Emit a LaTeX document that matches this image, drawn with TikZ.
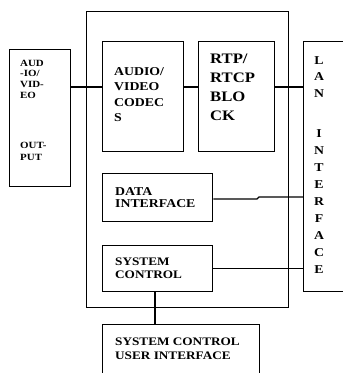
\documentclass[tikz,border=0pt]{standalone}
\usepackage{fontspec}
\setmainfont{Liberation Serif}[FakeStretch=1.15,BoldFont={Liberation Serif Bold}]
\begin{document}
\begin{tikzpicture}[x=1pt,y=-1pt,
  box/.style={draw,line width=1.4pt,rectangle,anchor=north west,inner sep=0pt},
  wire/.style={line width=1.1pt},
  lbl/.style={inner sep=0pt,align=left,anchor=base west},
  vlbl/.style={inner sep=0pt,align=center,anchor=base}]
\useasboundingbox (0,0) rectangle (343,373);
\clip (0,0) rectangle (343,373);
% boxes
\node[box,minimum width=202pt,minimum height=296pt] (main) at (86,11) {};
\node[box,minimum width=61pt,minimum height=137pt] (av) at (9,49) {};
\node[box,minimum width=81pt,minimum height=110pt] (codec) at (102,41) {};
\node[box,minimum width=76pt,minimum height=110pt] (rtp) at (198,41) {};
\node[box,minimum width=50pt,minimum height=250pt] (lan) at (303,41) {};
\node[box,minimum width=110pt,minimum height=48pt] (data) at (102,173) {};
\node[box,minimum width=110pt,minimum height=46pt] (sys) at (102,245) {};
\node[box,minimum width=157pt,minimum height=60pt] (ui) at (102,324) {};
% labels (anchored at the baseline of the last line)
\node[lbl,font=\fontsize{9.5}{10.8}\selectfont\bfseries] (avt1) at (20,98.4) {AUD\\-IO/\\VID-\\EO};
\node[lbl,font=\fontsize{9.5}{12}\selectfont\bfseries] (avt2) at (20,160) {OUT-\\PUT};
\node[lbl,font=\fontsize{12}{15.6}\selectfont\bfseries] (codect) at (114,121.8) {AUDIO/\\VIDEO\\CODEC\\S};
\node[lbl,font=\fontsize{14.5}{19}\selectfont\bfseries] (rtpt) at (210,120) {RTP/\\RTCP\\BLO\\CK};
\node[vlbl,font=\fontsize{12}{16.5}\selectfont\bfseries] (lant1) at (319,97) {L\\A\\N};
\node[vlbl,font=\fontsize{12}{17.1}\selectfont\bfseries] (lant2) at (319,273.8) {I\\N\\T\\E\\R\\F\\A\\C\\E};
\node[lbl,font=\fontsize{12}{12}\selectfont\bfseries] (datat) at (115,207) {DATA\\INTERFACE};
\node[lbl,font=\fontsize{11.5}{13}\selectfont\bfseries] (syst) at (115,278) {SYSTEM\\CONTROL};
\node[lbl,font=\fontsize{11.5}{14}\selectfont\bfseries] (uit) at (115,359) {SYSTEM CONTROL\\USER INTERFACE};
% connectors
\coordinate (r1) at (0,87);
\coordinate (r2) at (0,199);
\coordinate (r3) at (0,197);
\coordinate (j1) at (257,199);
\coordinate (j2) at (259,197);
\coordinate (c1) at (155,0);
\draw[wire] (av.east |- r1) -- (codec.west |- r1);
\draw[wire] (codec.east |- r1) -- (rtp.west |- r1);
\draw[wire] (rtp.east |- r1) -- (lan.west |- r1);
\draw[wire] (data.east |- r2) -- (j1) -- (j2) -- (lan.west |- r3);
\draw[wire] (sys.east) -- (lan.west |- sys.east);
\draw[wire] (sys.south -| c1) -- (ui.north -| c1);
\end{tikzpicture}
\end{document}
